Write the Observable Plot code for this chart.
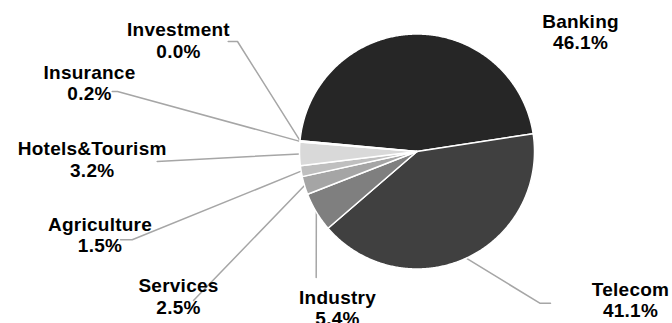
<!DOCTYPE html>
<html><head><meta charset="utf-8">
<script src="https://cdn.jsdelivr.net/npm/d3@7"></script>
<script src="https://cdn.jsdelivr.net/npm/@observablehq/plot@0.6"></script>
<style>html,body{margin:0;padding:0;background:#fff;} #chart{width:672px;height:323px;overflow:hidden;} #chart svg text{letter-spacing:0.25px;}</style>
</head><body><div id="chart"></div>
<script>
// ---- data ----
const categories = ["Banking", "Telecom", "Industry", "Services", "Agriculture", "Hotels&Tourism", "Insurance", "Investment"];
const shares = [46.1, 41.1, 5.4, 2.5, 1.5, 3.2, 0.2, 0.0];
const shareLabels = ["46.1%", "41.1%", "5.4%", "2.5%", "1.5%", "3.2%", "0.2%", "0.0%"];
const sliceColors = ["#262626", "#404040", "#7f7f7f", "#a5a5a5", "#bfbfbf", "#d9d9d9", "#f2f2f2", "#ffffff"];

// ---- layout (pixels) ----
const W = 672, H = 323, CX = 416.5, CY = 151, R = 117.5, START_ANGLE = -84.7;
// label anchor (centre x, last-line baseline) as offsets from the pie centre
const labelOffset = [[163.5, -102.5], [213.5, 165.6], [-79.5, 173.6], [-238.5, 162.2], [-317, 100.6], [-324.8, 25.3], [-327.5, -51.1], [-238.5, -93.7]];
// leader line points next to each label (the last point is the slice edge, computed)
const leaderStart = [[], [[133.5, 151.7], [122.8, 151.7]], [[-100.8, 126]], [[-223.5, 149]], [[-296.5, 88.3], [-284.8, 88.3]], [[-259.8, 10]], [[-304.8, -60], [-299.5, -60]], [[-188.8, -110], [-179.5, -110]]];

const toUnit = ([dx, dy]) => ({x: dx / R, y: -dy / R});

const total = d3.sum(shares);
let acc = START_ANGLE;
const slicePts = [], mids = [];
categories.forEach((name, i) => {
  const sweep = shares[i] / total * 360;
  const a0 = acc, a1 = acc + sweep;
  acc = a1;
  mids.push((a0 + a1) / 2);
  if (sweep <= 0) return;
  slicePts.push({name, x: 0, y: 0});
  const n = Math.max(2, Math.ceil(sweep / 0.5));
  for (let k = 0; k <= n; k++) {
    const a = (a0 + (a1 - a0) * k / n) * Math.PI / 180;
    slicePts.push({name, x: Math.sin(a), y: Math.cos(a)});
  }
});

const leaderPts = [];
categories.forEach((name, i) => {
  if (!leaderStart[i].length) return;
  leaderStart[i].forEach(p => leaderPts.push({name, ...toUnit(p)}));
  const a = mids[i] * Math.PI / 180;
  leaderPts.push({name, x: Math.sin(a), y: Math.cos(a)});
});

const labels = categories.map((name, i) => ({name, ...toUnit(labelOffset[i]), text: name + "\n" + shareLabels[i]}));

const plot = Plot.plot({
  width: W, height: H, margin: 0,
  style: {background: "#fff"},
  x: {domain: [-CX / R, (W - CX) / R], axis: null},
  y: {domain: [-(H - CY) / R, CY / R], axis: null},
  color: {domain: categories, range: sliceColors},
  marks: [
    Plot.line(leaderPts, {x: "x", y: "y", z: "name", stroke: "#a6a6a6", strokeWidth: 1.5}),
    Plot.line(slicePts, {x: "x", y: "y", z: "name", fill: "name", stroke: "white", strokeWidth: 1.5, curve: "linear-closed", strokeLinejoin: "round"}),
    Plot.text(labels, {x: "x", y: "y", text: "text", fontSize: 19, fontWeight: "bold",
      fontFamily: "'Liberation Sans', Arial, sans-serif", fill: "#000",
      lineAnchor: "bottom", lineHeight: 1.126, textAnchor: "middle"})
  ]
});
document.getElementById("chart").appendChild(plot);
</script>
</body></html>
